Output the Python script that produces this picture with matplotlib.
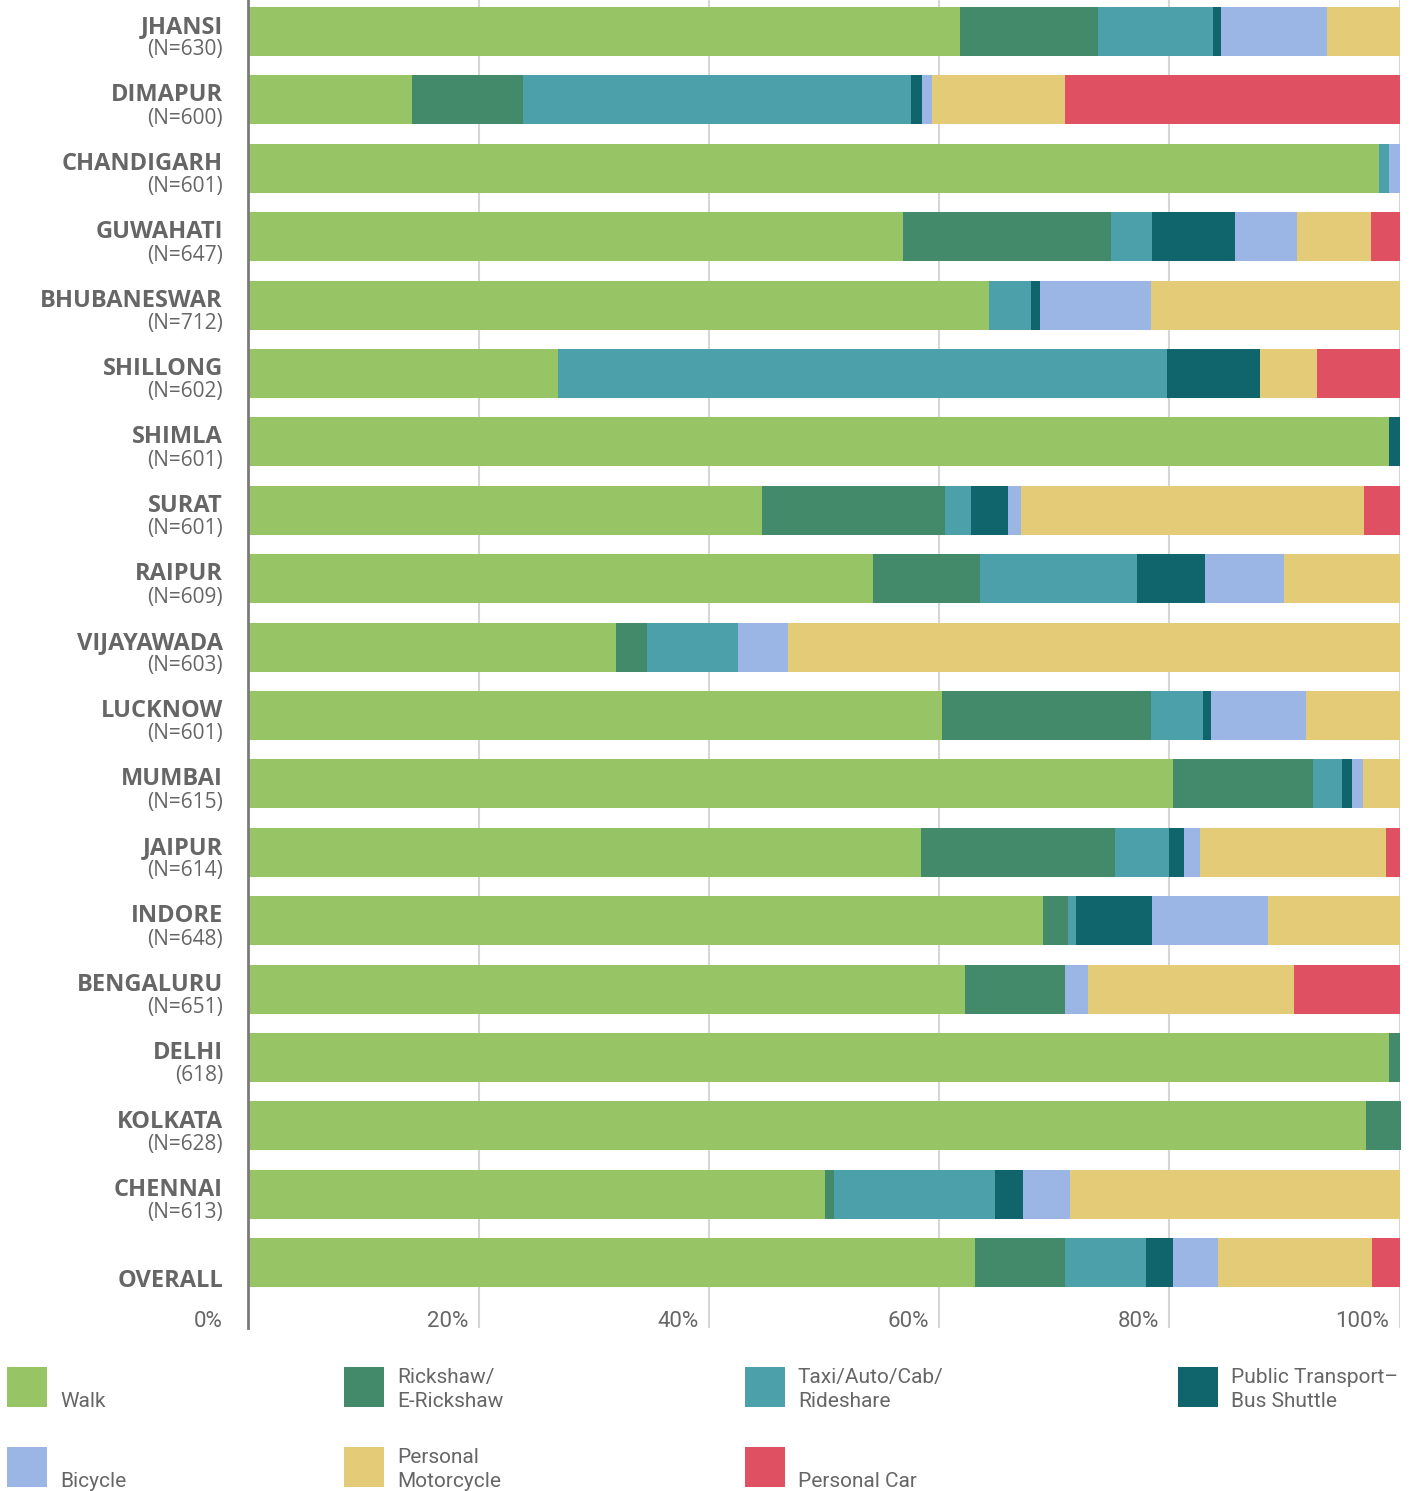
import matplotlib
matplotlib.use("Agg")
import matplotlib.pyplot as plt
from matplotlib.patches import Rectangle
import numpy as np

cities = ["JHANSI", "DIMAPUR", "CHANDIGARH", "GUWAHATI", "BHUBANESWAR", "SHILLONG",
          "SHIMLA", "SURAT", "RAIPUR", "VIJAYAWADA", "LUCKNOW", "MUMBAI", "JAIPUR",
          "INDORE", "BENGALURU", "DELHI", "KOLKATA", "CHENNAI", "OVERALL"]
sample_labels = ["(N=630)", "(N=600)", "(N=601)", "(N=647)", "(N=712)", "(N=602)",
                 "(N=601)", "(N=601)", "(N=609)", "(N=603)", "(N=601)", "(N=615)",
                 "(N=614)", "(N=648)", "(N=651)", "(618)", "(N=628)", "(N=613)", ""]

modes = ["Walk", "Rickshaw/\nE-Rickshaw", "Taxi/Auto/Cab/\nRideshare",
         "Public Transport–\nBus Shuttle", "Bicycle", "Personal\nMotorcycle", "Personal Car"]

walk       = [61.8, 14.2, 98.2, 56.9, 64.3, 26.9, 99.1, 44.6, 54.3, 31.9, 60.3, 80.3, 58.4, 69.0, 62.3, 99.1, 97.1, 50.1, 63.1]
rickshaw   = [12.0,  9.7,  0.0, 18.0,  0.0,  0.0,  0.0, 15.9,  9.3,  2.7, 18.1, 12.2, 16.9,  2.2,  8.6,  0.9,  3.0,  0.8,  7.8]
taxi       = [10.0, 33.7,  0.9,  3.6,  3.7, 52.9,  0.0,  2.3, 13.6,  7.9,  4.5,  2.5,  4.7,  0.7,  0.0,  0.0,  0.0, 14.0,  7.1]
public_bus = [ 0.7,  0.9,  0.0,  7.2,  0.8,  8.1,  0.9,  3.2,  5.9,  0.0,  0.7,  0.9,  1.3,  6.6,  0.0,  0.0,  0.0,  2.4,  2.3]
bicycle    = [ 9.2,  0.9,  0.9,  5.4,  9.6,  0.0,  0.0,  1.1,  6.9,  4.4,  8.3,  0.9,  1.4, 10.1,  2.0,  0.0,  0.0,  4.1,  3.9]
motorcycle = [ 6.3, 11.5,  0.0,  6.4, 21.6,  4.9,  0.0, 29.8, 10.0, 53.1,  8.1,  3.2, 16.1, 11.4, 17.9,  0.0,  0.0, 28.6, 13.4]
car        = [ 0.0, 29.1,  0.0,  2.5,  0.0,  7.2,  0.0,  3.1,  0.0,  0.0,  0.0,  0.0,  1.2,  0.0,  9.2,  0.0,  0.0,  0.0,  2.4]

series = [walk, rickshaw, taxi, public_bus, bicycle, motorcycle, car]
colors = ["#97C465", "#438A6A", "#4BA0AA", "#10656C", "#9BB5E5", "#E3CB78", "#E05063"]
xticks = [0, 20, 40, 60, 80, 100]
xtick_labels = ["0%", "20%", "40%", "60%", "80%", "100%"]

W, H = 1417, 1491
fig = plt.figure(figsize=(W / 100, H / 100), dpi=100)

def fx(px):
    return px / W

def fy(py):
    return 1 - py / H

x0_px, x100_px = 248.3, 1399.5
ppu = (x100_px - x0_px) / 100.0
pitch = 68.4
c0 = 31.5
ax_bottom_px = 1328
ax = fig.add_axes([fx(x0_px), fy(ax_bottom_px), (x100_px - x0_px) / W, ax_bottom_px / H])
ax.set_xlim(0, 100)
ax.set_ylim((ax_bottom_px - c0) / pitch, -c0 / pitch)

ypos = np.arange(len(cities))
left = np.zeros(len(cities))
for vals, col, name in zip(series, colors, modes):
    v = np.array(vals)
    ax.barh(ypos, v, left=left, height=49 / pitch, color=col, edgecolor="none",
            label=name, zorder=3, clip_on=False)
    left += v

for t in xticks[1:]:
    ax.axvline(t, color="#d6d6d6", lw=1.5, zorder=1)

for s in ["top", "right", "bottom"]:
    ax.spines[s].set_visible(False)
ax.spines["left"].set_color("#7a7a7a")
ax.spines["left"].set_linewidth(2.0)
ax.spines["left"].set_zorder(5)
ax.set_xticks([])
ax.set_yticks([])

txt_color = "#666666"
label_x = (223 - x0_px) / ppu
for i, (c, n) in enumerate(zip(cities, sample_labels)):
    if n:
        ax.text(label_x, i + 1.6 / pitch, c, ha="right", va="baseline",
                fontsize=17, fontweight="bold", family="Open Sans", color=txt_color)
        ax.text(label_x, i + 24 / pitch, n, ha="right", va="baseline",
                fontsize=15, family="Open Sans", color=txt_color)
    else:
        ax.text(label_x, i + 24.5 / pitch, c, ha="right", va="baseline",
                fontsize=17, fontweight="bold", family="Open Sans", color=txt_color)

tick_y = (1327 - c0) / pitch
for t, lab in zip(xticks, xtick_labels):
    if t == 0:
        xx = label_x
    else:
        xx = t - 10.5 / ppu
    ax.text(xx, tick_y, lab, ha="right", va="baseline", fontsize=16,
            family="Roboto", color=txt_color, clip_on=False)

# legend
leg_cols = [7, 344, 745, 1178]
leg_rows = [1367, 1447]
for k, (name, col) in enumerate(zip(modes, colors)):
    r, cidx = divmod(k, 4)
    sx = leg_cols[cidx]
    sy = leg_rows[r]
    fig.add_artist(Rectangle((fx(sx), fy(sy + 40)), 40 / W, 40 / H,
                             transform=fig.transFigure, facecolor=col, edgecolor="none"))
    lines = name.split("\n")
    base = sy + 40
    for j, line in enumerate(reversed(lines)):
        fig.text(fx(sx + 53), fy(base - 24 * j), line, ha="left", va="baseline",
                 fontsize=15, family="Roboto", color=txt_color)

fig.savefig("out.png", dpi=100, facecolor="white")
